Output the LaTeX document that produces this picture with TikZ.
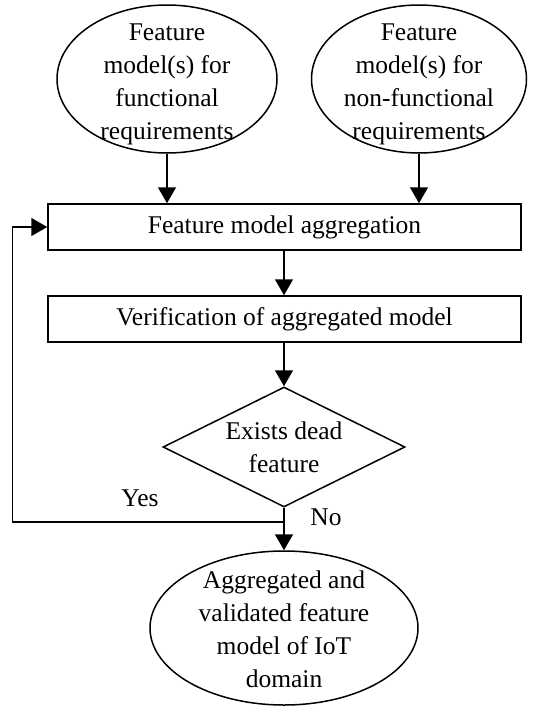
\documentclass[tikz,border=0pt]{standalone}
\usepackage{fontspec}
\setmainfont{Liberation Serif}
\usetikzlibrary{shapes.geometric,arrows.meta}
\tikzset{
  txt/.style={inner sep=0pt, align=center, font=\fontsize{25.5}{33}\selectfont},
  base/.style={txt, draw=black, line width=1.5pt},
  oval/.style={draw=black, line width=1.5pt, ellipse, inner sep=0pt},
  stepbox/.style={base, rectangle, minimum width=473pt, minimum height=46pt},
  choice/.style={base, diamond, minimum width=242pt, minimum height=120pt, aspect=2},
  flow/.style={line width=1.5pt, -{Triangle[length=16pt,width=18pt]}}
}
\begin{document}
\begin{tikzpicture}[x=1pt,y=-1pt]
  \useasboundingbox (0,0) rectangle (547,707);
  % inputs
  \node[oval, minimum width=220pt, minimum height=148pt] (fr) at (167,79) {};
  \node[txt] (frtext) at (167,84)
    {Feature\\model(s) for\\functional\\requirements};
  \node[oval, minimum width=215pt, minimum height=148pt] (nfr) at (419,79) {};
  \node[txt] (nfrtext) at (419,84)
    {Feature\\model(s) for\\non-functional\\requirements};
  % processing steps
  \node[stepbox] (agg) at (284.5,227) {Feature model aggregation};
  \node[stepbox] (ver) at (284.5,319) {Verification of aggregated model};
  \node[choice] (dec) at (284,447) {Exists dead\\feature};
  % result
  \node[oval, minimum width=268pt, minimum height=154pt] (res) at (284,628) {};
  \node[txt] (restext) at (284,629)
    {Aggregated and\\validated feature\\model of IoT\\domain};
  % connectors
  \draw[flow] (fr.south) -- (fr.south |- agg.north);
  \draw[flow] (nfr.south) -- (nfr.south |- agg.north);
  \draw[flow] (agg.south -| dec.north) -- (ver.north -| dec.north);
  \draw[flow] (ver.south -| dec.north) -- (dec.north);
  \draw[flow] (dec.south) -- (res.north);
  \coordinate (loop) at (12.5,522);
  \draw[flow] (dec.south) |- (loop) |- (agg.west);
  % branch labels
  \node[txt] (yes) at (140,498) {Yes};
  \node[txt] (no) at (326,517) {No};
\end{tikzpicture}
\end{document}
